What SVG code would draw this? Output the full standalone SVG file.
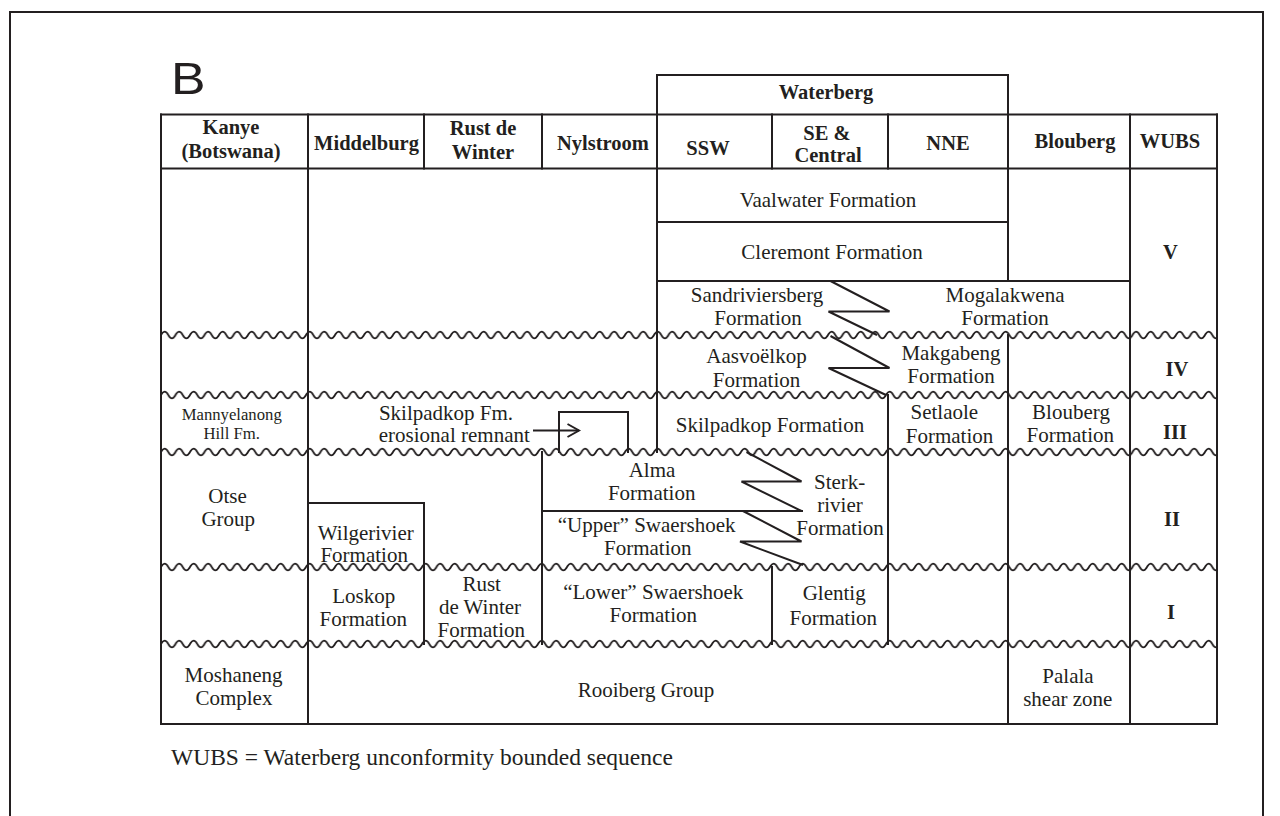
<svg xmlns="http://www.w3.org/2000/svg" width="1280" height="816" viewBox="0 0 1280 816">
<style>
.ln{fill:none;stroke:#231f20;stroke-width:2;stroke-linecap:square}
.zz{fill:none;stroke:#231f20;stroke-width:2;stroke-linejoin:miter}
.t{font-family:"Liberation Serif","Times New Roman",serif;font-size:21px;fill:#231f20;text-anchor:middle}
.h{font-family:"Liberation Serif","Times New Roman",serif;font-size:20.5px;font-weight:bold;fill:#231f20;text-anchor:middle}
.s{font-family:"Liberation Serif","Times New Roman",serif;font-size:16.7px;fill:#231f20;text-anchor:middle}
</style>
<defs>
<pattern id="wave" patternUnits="userSpaceOnUse" x="161" y="0" width="14.5" height="12">
<path d="M-7.25,6 Q-3.625,12.6 0,6 T7.25,6 T14.5,6 T21.75,6" fill="none" stroke="#231f20" stroke-width="1.7"/>
</pattern>
<marker id="chev" markerUnits="userSpaceOnUse" markerWidth="16" markerHeight="16" refX="13" refY="8" orient="auto">
<path d="M1.5,1.5 L13,8 L1.5,14.5" fill="none" stroke="#231f20" stroke-width="2"/>
</marker>
</defs>
<rect x="0" y="0" width="1280" height="816" fill="#ffffff"/>
<path class="ln" d="M10,816 V12 H1263 V816"/>
<text transform="translate(171,94) scale(1.15,1)" style="font-family:'Liberation Sans',Arial,sans-serif;font-size:45px;fill:#231f20">B</text>

<g id="connectors">
<g id="grid">
<path class="ln" d="M657,75 H1008 M161,114.5 H1217 M161,168.5 H1217 M657,222 H1008 M657,281 H1130 M559,412 H628 M308,503 H424 M542,511 H802 M161,724 H1217"/>
<path class="ln" d="M161,114.5 V724 M308,114.5 V724 M424,114.5 V168.5 M424,503 V644 M542,114.5 V168.5 M542,452 V644 M657,75 V452 M772,114.5 V168.5 M772,567 V644 M888,114.5 V168.5 M888,395 V644 M1008,75 V281 M1008,335 V724 M1130,114.5 V724 M1217,114.5 V724 M559,412 V452 M628,412 V452"/>
</g>
<g id="interfingering">
<path class="zz" d="M830.5,281 L889.5,311.5 L828.5,311.5 L877,335"/>
<path class="zz" d="M830.5,336 L889.5,368 L828.5,368 L886,395"/>
<path class="zz" d="M746.5,452 L801.5,481.5 L741.5,481.5 L801.5,511"/>
<path class="zz" d="M743,511 L801.5,541.5 L740,541.5 L803,565"/>
</g>
<g id="unconformities">
<g transform="translate(0,329)"><rect x="161" y="0" width="1056" height="12" fill="url(#wave)"/></g>
<g transform="translate(0,389)"><rect x="161" y="0" width="1056" height="12" fill="url(#wave)"/></g>
<g transform="translate(0,446)"><rect x="161" y="0" width="1056" height="12" fill="url(#wave)"/></g>
<g transform="translate(0,561)"><rect x="161" y="0" width="1056" height="12" fill="url(#wave)"/></g>
<g transform="translate(0,638)"><rect x="161" y="0" width="1056" height="12" fill="url(#wave)"/></g>
</g>
<g id="arrow"><path class="ln" d="M533,430.5 H579" marker-end="url(#chev)" style="stroke-linecap:butt"/></g>
</g>

<g id="header">
<g id="h-waterberg"><text class="h" x="826" y="99">Waterberg</text></g>
<g id="h-kanye"><text class="h" x="231" y="134">Kanye</text><text class="h" x="231" y="158">(Botswana)</text></g>
<g id="h-middelburg"><text class="h" x="366.5" y="150">Middelburg</text></g>
<g id="h-rust"><text class="h" x="483" y="135">Rust de</text><text class="h" x="483" y="159">Winter</text></g>
<g id="h-nylstroom"><text class="h" x="603" y="150">Nylstroom</text></g>
<g id="h-ssw"><text class="h" x="708" y="155">SSW</text></g>
<g id="h-se"><text class="h" x="827" y="140">SE &amp;</text><text class="h" x="828" y="162">Central</text></g>
<g id="h-nne"><text class="h" x="948" y="150">NNE</text></g>
<g id="h-blouberg"><text class="h" x="1075" y="148">Blouberg</text></g>
<g id="h-wubs"><text class="h" x="1170" y="148">WUBS</text></g>
</g>

<g id="vaalwater"><text class="t" x="828" y="206.5">Vaalwater Formation</text></g>
<g id="cleremont"><text class="t" x="832" y="259">Cleremont Formation</text></g>
<g id="wubs-v"><text class="h" x="1170.5" y="259">V</text></g>
<g id="sandriviersberg"><text class="t" x="757" y="301.5">Sandriviersberg</text><text class="t" x="758" y="325">Formation</text></g>
<g id="mogalakwena"><text class="t" x="1005" y="301.5">Mogalakwena</text><text class="t" x="1005" y="325">Formation</text></g>
<g id="aasvoelkop"><text class="t" x="756.5" y="363">Aasvoëlkop</text><text class="t" x="756.5" y="386.5">Formation</text></g>
<g id="makgabeng"><text class="t" x="951" y="360">Makgabeng</text><text class="t" x="951" y="383">Formation</text></g>
<g id="wubs-iv"><text class="h" x="1177" y="376">IV</text></g>
<g id="mannyelanong"><text class="s" x="231.7" y="420">Mannyelanong</text><text class="s" x="231.7" y="438.5">Hill Fm.</text></g>
<g id="remnant"><text class="t" x="446" y="419.5">Skilpadkop Fm.</text><text class="t" x="454.3" y="441.5">erosional remnant</text></g>
<g id="skilpadkop"><text class="t" x="770" y="431.5">Skilpadkop Formation</text></g>
<g id="setlaole"><text class="t" x="944.3" y="419.3">Setlaole</text><text class="t" x="949.5" y="442.7">Formation</text></g>
<g id="blouberg-fm"><text class="t" x="1071" y="419">Blouberg</text><text class="t" x="1070.3" y="442.3">Formation</text></g>
<g id="wubs-iii"><text class="h" x="1175" y="439.3">III</text></g>
<g id="otse"><text class="t" x="227.5" y="503">Otse</text><text class="t" x="228.3" y="526">Group</text></g>
<g id="alma"><text class="t" x="652" y="477.3">Alma</text><text class="t" x="651.7" y="500">Formation</text></g>
<g id="sterkrivier"><text class="t" x="839.7" y="489.3">Sterk-</text><text class="t" x="840" y="511.7">rivier</text><text class="t" x="840" y="535">Formation</text></g>
<g id="upper-swaershoek"><text class="t" x="646.7" y="531.7">“Upper” Swaershoek</text><text class="t" x="647.8" y="555">Formation</text></g>
<g id="wilgerivier"><text class="t" x="365.8" y="540">Wilgerivier</text><text class="t" x="364.2" y="562">Formation</text></g>
<g id="wubs-ii"><text class="h" x="1172" y="526">II</text></g>
<g id="loskop"><text class="t" x="363.8" y="602.7">Loskop</text><text class="t" x="363.3" y="626">Formation</text></g>
<g id="rust-fm"><text class="t" x="481.7" y="591">Rust</text><text class="t" x="480" y="614">de Winter</text><text class="t" x="481.3" y="637">Formation</text></g>
<g id="lower-swaershoek"><text class="t" x="653.3" y="599.3">“Lower” Swaershoek</text><text class="t" x="653.3" y="622">Formation</text></g>
<g id="glentig"><text class="t" x="834.2" y="599.5">Glentig</text><text class="t" x="833.3" y="625">Formation</text></g>
<g id="wubs-i"><text class="h" x="1171" y="619">I</text></g>
<g id="moshaneng"><text class="t" x="233.6" y="681.7">Moshaneng</text><text class="t" x="233.9" y="704.5">Complex</text></g>
<g id="rooiberg"><text class="t" x="646" y="696.7">Rooiberg Group</text></g>
<g id="palala"><text class="t" x="1068" y="683.3">Palala</text><text class="t" x="1067.8" y="706">shear zone</text></g>
<g id="footnote"><text x="171" y="765" style="font-family:'Liberation Serif','Times New Roman',serif;font-size:23.5px;fill:#231f20">WUBS = Waterberg unconformity bounded sequence</text></g>
</svg>
